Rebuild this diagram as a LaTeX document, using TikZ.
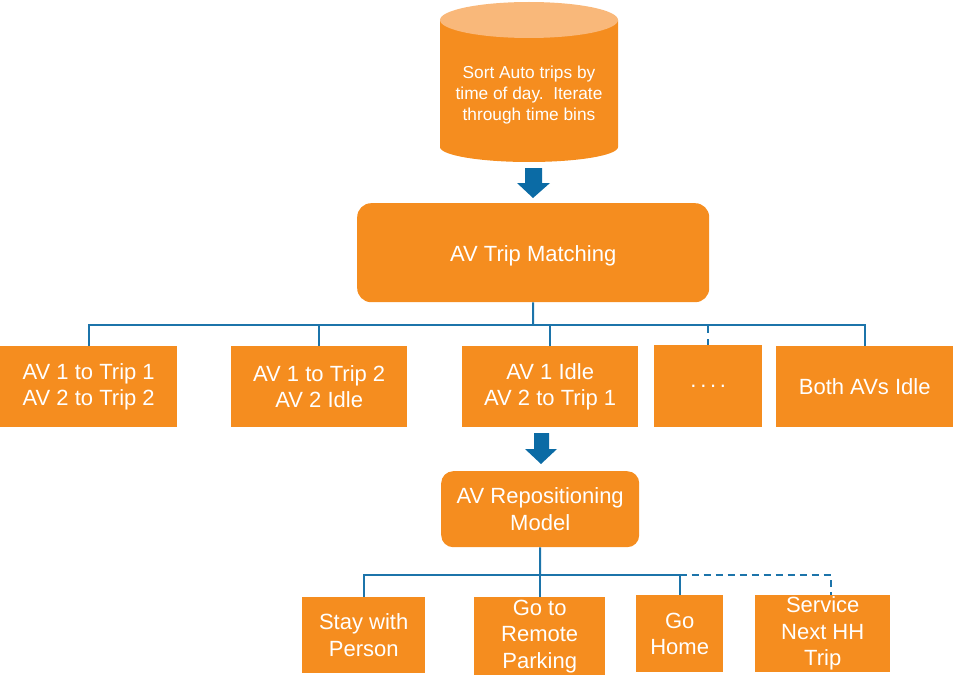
\documentclass[tikz,border=0pt]{standalone}
\usepackage{fontspec}
\setmainfont{Liberation Sans}
\definecolor{av}{HTML}{F58D1F}
\definecolor{avlight}{HTML}{F9B87A}
\definecolor{ln}{HTML}{1C74AA}
\definecolor{ar}{HTML}{0B6BA5}
\begin{document}
\begin{tikzpicture}[x=1pt,y=-1pt,
  box/.style={fill=av, text=white, align=center, inner sep=0pt, anchor=north west,
    font=\fontsize{22}{26.5}\selectfont},
  rbox/.style={box, rounded corners=14},
  lowtext/.style={execute at begin node={\rule{0pt}{#1}}},
  conn/.style={draw=ln, line width=2pt},
  blockarrow/.style={fill=ar}]
\useasboundingbox (0,0) rectangle (953,690);
% cylinder
\fill[av] (440,20) -- (440,147) arc[start angle=180, end angle=0, x radius=89, y radius=15] -- (618,20) -- cycle;
\fill[avlight] (529,20) ellipse[x radius=89, y radius=18];
\node[text=white, align=center, font=\fontsize{17.3}{21}\selectfont] (cyl) at (529,95)
  {Sort Auto trips by\\time of day.\ \ Iterate\\through time bins};
% arrow 1
\fill[blockarrow] (525,168) -- (542,168) -- (542,183) -- (550,183) -- (533,198) -- (517,183) -- (525,183) -- cycle;
% matching
\node[rbox, minimum width=352, minimum height=99, font=\fontsize{22}{26}\selectfont, lowtext=22pt] (match) at (357,203) {AV Trip Matching};
% row 1
\node[box, minimum width=177, minimum height=81, lowtext=25pt] (r1) at (0,346) {AV 1 to Trip 1\\AV 2 to Trip 2};
\node[box, minimum width=176, minimum height=81, lowtext=25pt] (r2) at (231,346) {AV 1 to Trip 2\\AV 2 Idle};
\node[box, minimum width=176, minimum height=81, lowtext=25pt] (r3) at (462,346) {AV 1 Idle\\AV 2 to Trip 1};
\node[box, minimum width=108, minimum height=82] (r4) at (654,345) {.\,.\,.\,.};
\node[box, minimum width=177, minimum height=81] (r5) at (776,346) {Both AVs Idle};
\coordinate (bus1) at (533,325);
\draw[conn] (match.south) -- (bus1);
\draw[conn] (r1.north) |- (bus1) -| (r5.north);
\draw[conn] (r2.north) -- (r2.north |- bus1);
\draw[conn] (r3.north) -- (r3.north |- bus1);
\draw[conn, dash pattern=on 8pt off 6pt] (r4.north |- bus1) -- (r4.north);
% arrow 2
\fill[blockarrow] (534,433) -- (549,433) -- (549,449) -- (557,449) -- (541,464) -- (525,449) -- (534,449) -- cycle;
% repositioning
\node[rbox, minimum width=198, minimum height=76, rounded corners=12] (rep) at (441,471) {AV Repositioning\\Model};
% row 2
\node[box, minimum width=123, minimum height=76, lowtext=24pt] (b1) at (302,597) {Stay with\\Person};
\node[box, minimum width=131, minimum height=78, lowtext=24pt] (b2) at (474,597) {Go to\\Remote\\Parking};
\node[box, minimum width=87, minimum height=77, lowtext=24pt] (b3) at (636,595) {Go\\Home};
\node[box, minimum width=135, minimum height=77, lowtext=24pt] (b4) at (755,595) {Service\\Next HH\\Trip};
\coordinate (bus2) at (540,575);
\draw[conn] (rep.south) -- (bus2);
\draw[conn] (b1.north) |- (bus2) -| (b3.north);
\draw[conn] (b2.north) -- (b2.north |- bus2);
\draw[conn, dash pattern=on 7pt off 5pt] (b3.north |- bus2) -| ([xshift=8]b4.north);
\end{tikzpicture}
\end{document}
